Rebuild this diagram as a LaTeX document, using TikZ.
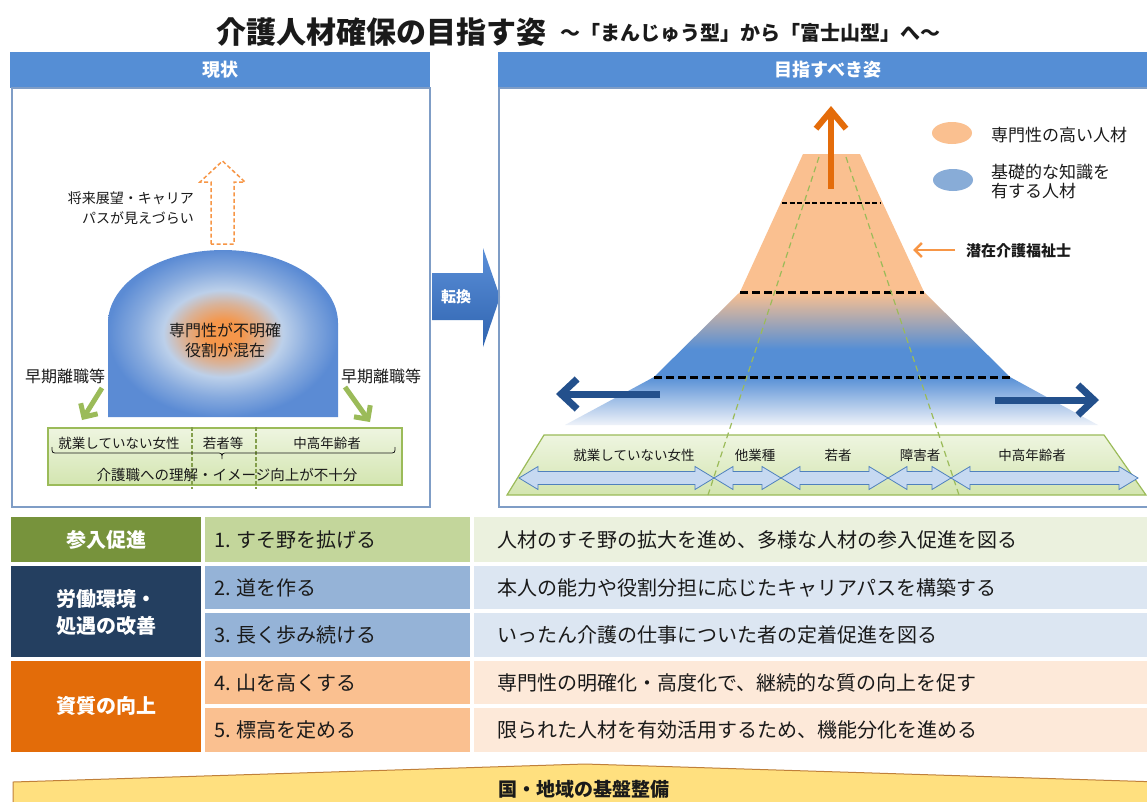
\documentclass[tikz,border=0pt]{standalone}
\usepackage{fontspec}
\setmainfont{Noto Sans CJK JP}
\usetikzlibrary{arrows.meta}
\definecolor{hdrblue}{HTML}{558ED5}
\definecolor{panelline}{HTML}{7F9DC6}
\definecolor{domeorange}{HTML}{F5964A}
\definecolor{domelight}{HTML}{BCD0EA}
\definecolor{domeblue}{HTML}{5B8BD4}
\definecolor{mtorange}{HTML}{FAC090}
\definecolor{mtblue}{HTML}{558ED5}
\definecolor{mtfade}{HTML}{EEF2F9}
\definecolor{grn}{HTML}{9BBB59}
\definecolor{grnlight}{HTML}{EEF5E0}
\definecolor{grnmid}{HTML}{D3E5B0}
\definecolor{darrfill}{HTML}{C6D9F1}
\definecolor{darrline}{HTML}{4F81BD}
\definecolor{navyarr}{HTML}{23508C}
\definecolor{orangearr}{HTML}{E46C0A}
\definecolor{orangeline}{HTML}{F79646}
\definecolor{catgreen}{HTML}{77933C}
\definecolor{catnavy}{HTML}{243F60}
\definecolor{catorange}{HTML}{E36C09}
\definecolor{ctwogreen}{HTML}{C3D69B}
\definecolor{ctwoblue}{HTML}{95B3D7}
\definecolor{ctwoorange}{HTML}{FAC090}
\definecolor{cthreegreen}{HTML}{EBF1DE}
\definecolor{cthreeblue}{HTML}{DCE6F2}
\definecolor{cthreeorange}{HTML}{FDE9D9}
\definecolor{bannerfill}{HTML}{FFE07F}
\definecolor{bannerline}{HTML}{C0803A}
\definecolor{txt}{HTML}{1A1A1A}
\definecolor{convtop}{HTML}{5B8FD8}
\definecolor{convbot}{HTML}{2F64B0}
\pgfdeclareradialshading{domeshade}{\pgfpoint{0bp}{0bp}}{color(0bp)=(domeorange); color(4bp)=(domeorange); color(9bp)=(domeorange!50!domelight); color(13bp)=(domelight); color(19bp)=(domelight!45!domeblue); color(25bp)=(domeblue); color(50bp)=(domeblue)}
\pgfdeclareverticalshading{mtshade}{100bp}{color(0bp)=(mtfade); color(25bp)=(mtfade); color(34bp)=(mtblue); color(39bp)=(mtblue); color(49.5bp)=(mtorange); color(100bp)=(mtorange)}
\newcommand{\dbarrow}[2]{%
  \draw[darrline, fill=darrfill, line width=0.8pt, line join=miter]
    (#1,478) -- ({#1+19},466.5) -- ({#1+19},471.5) -- ({#2-19},471.5) -- ({#2-19},466.5)
    -- (#2,478) -- ({#2-19},489.5) -- ({#2-19},484.5) -- ({#1+19},484.5) -- ({#1+19},489.5) -- cycle;}
\begin{document}
\begin{tikzpicture}[x=1pt,y=-1pt,
  lbl/.style={inner sep=0, text=txt},
  hdrtext/.style={inner sep=0, text=white, font=\fontsize{18}{22}\selectfont\bfseries},
  celltext/.style={inner sep=0, text=txt, anchor=west, font=\fontsize{20}{24}\selectfont},
  cattext/.style={inner sep=0, text=white, align=center, font=\fontsize{20}{27}\selectfont\bfseries},
  blackdash/.style={black, line width=3pt, dash pattern=on 8pt off 4pt},
  greendash/.style={grn, line width=1.2pt, dash pattern=on 6pt off 4pt},
  grnarrow/.style={grn, line width=5pt, -{Straight Barb[length=10pt,width=20pt]}},
  navyarrow/.style={navyarr, line width=7pt, -{Straight Barb[length=16pt,width=30pt]}}
]
\useasboundingbox (0,0) rectangle (1147,801);
\fill[white] (0,0) rectangle (1147,801);
\clip (0,0) rectangle (1147,801);

% title
\node[lbl, anchor=west, font=\fontsize{30}{34}\selectfont\bfseries] (title) at (216,32) {介護人材確保の目指す姿};
\node[lbl, anchor=west, font=\fontsize{20}{24}\selectfont\bfseries] (subtitle) at (560,33) {～「まんじゅう型」から「富士山型」へ～};

% headers
\fill[hdrblue] (10,52) rectangle (430,88);
\node[hdrtext] (hdrL) at (220,70) {現状};
\fill[hdrblue] (498,52) rectangle (1150,88);
\node[hdrtext] (hdrR) at (828,70) {目指すべき姿};

% conversion arrow
\shade[top color=convtop, bottom color=convbot] (432,273) -- (483,273) -- (483,248) -- (500,297) -- (483,347) -- (483,320) -- (432,320) -- cycle;
\node[inner sep=0, text=white, font=\fontsize{15}{18}\selectfont\bfseries] (conv) at (456,297) {転換};

% panel borders
\draw[panelline, line width=1.2pt] (12,88) rectangle (430,507);
\draw[panelline, line width=1.2pt] (499,88) rectangle (1152,507);

% ---------- left panel ----------
\shade[shading=domeshade] (108,417) -- (108,323) .. controls (108,283) and (159.5,250) .. (223,250) .. controls (286.5,250) and (338,283) .. (338,323) -- (338,417) -- cycle;
\node[lbl, align=center, font=\fontsize{16}{20}\selectfont] (domeText) at (225,340) {専門性が不明確\\役割が混在};

\draw[orangeline, line width=1.5pt, dash pattern=on 4pt off 2.5pt] (211,244) -- (211,182) -- (200,182) -- (222.5,161) -- (245,182) -- (234,182) -- (234,244) -- cycle;
\node[lbl, anchor=east, align=right, font=\fontsize{14}{20}\selectfont] (career) at (194,208) {将来展望・キャリア\\パスが見えづらい};

\node[lbl, font=\fontsize{16}{20}\selectfont] (earlyL) at (65,376) {早期離職等};
\node[lbl, font=\fontsize{16}{20}\selectfont] (earlyR) at (381,376) {早期離職等};
\coordinate (gaL1) at (102,388);
\coordinate (gaL2) at (82,420);
\coordinate (gaR1) at (345,387);
\coordinate (gaR2) at (370,422);
\draw[grnarrow] (gaL1) -- (gaL2);
\draw[grnarrow] (gaR1) -- (gaR2);

\draw[top color=grnlight, bottom color=grnmid, draw=grn, line width=1.2pt] (48,428) rectangle (402,485);
\draw[grn!85!black, line width=1.2pt, dash pattern=on 4pt off 2pt] (192,427) -- (192,489);
\draw[grn!85!black, line width=1.2pt, dash pattern=on 4pt off 2pt] (256,427) -- (256,489);
\node[lbl, font=\fontsize{13.5}{16}\selectfont] (lw) at (119,443) {就業していない女性};
\node[lbl, font=\fontsize{13.5}{16}\selectfont] (ly) at (223,443) {若者等};
\node[lbl, font=\fontsize{13.5}{16}\selectfont] (lm) at (327,443) {中高年齢者};
\draw[txt, line width=0.8pt] (52,447) .. controls (52,453) .. (58,453) -- (216,453) .. controls (222,453) .. (222,459) .. controls (222,453) .. (228,453) -- (389,453) .. controls (395,453) .. (395,447);
\node[lbl, font=\fontsize{14.5}{17}\selectfont] (lunder) at (227,475) {介護職への理解・イメージ向上が不十分};

% ---------- right panel ----------
\shade[shading=mtshade] (803,154) -- (860,154) -- (924,292) -- (1010,377) -- (1098,425) -- (565,425) -- (654,377) -- (740,292) -- cycle;
\draw[black, line width=2.2pt, dash pattern=on 5pt off 2.5pt] (782,203) -- (881,203);
\draw[blackdash] (740,292) -- (924,292);
\draw[blackdash] (654,377) -- (1010,377);

\draw[top color=grnlight, bottom color=grnmid, draw=grn, line width=1.2pt] (544,435) -- (1104,435) -- (1146,495) -- (507,495) -- cycle;

\draw[greendash] (819,157) -- (708,495);
\draw[greendash] (846,157) -- (959,495);

\dbarrow{519}{714}
\dbarrow{714}{781}
\dbarrow{781}{888}
\dbarrow{888}{951}
\dbarrow{951}{1138}

\node[lbl, font=\fontsize{13.5}{16}\selectfont] (rw) at (634,455) {就業していない女性};
\node[lbl, font=\fontsize{13.5}{16}\selectfont] (ro) at (755,455) {他業種};
\node[lbl, font=\fontsize{13.5}{16}\selectfont] (ry) at (838,455) {若者};
\node[lbl, font=\fontsize{13.5}{16}\selectfont] (rd) at (920,455) {障害者};
\node[lbl, font=\fontsize{13.5}{16}\selectfont] (rm) at (1032,455) {中高年齢者};

\coordinate (baL1) at (660,394);
\coordinate (baL2) at (556,394);
\coordinate (baR1) at (995,400);
\coordinate (baR2) at (1099,400);
\draw[navyarrow] (baL1) -- (baL2);
\draw[navyarrow] (baR1) -- (baR2);

\coordinate (upA) at (831,189);
\coordinate (upB) at (831,106);
\draw[orangearr, line width=6pt, -{Straight Barb[length=18pt,width=30pt]}] (upA) -- (upB);

% legend
\fill[mtorange] (952,133) ellipse [x radius=20, y radius=11];
\fill[ctwoblue!80!hdrblue] (953,180) ellipse [x radius=20, y radius=11];
\node[lbl, anchor=west, font=\fontsize{17}{20}\selectfont] (leg1) at (991,135) {専門性の高い人材};
\node[lbl, anchor=west, align=left, font=\fontsize{17}{19}\selectfont] (leg2) at (991,181) {基礎的な知識を\\有する人材};

\node[lbl, anchor=west, font=\fontsize{15}{18}\selectfont\bfseries] (latent) at (966,251) {潜在介護福祉士};
\coordinate (laA) at (955,250);
\coordinate (laB) at (913,250);
\draw[orangeline, line width=2.5pt, -{Straight Barb[length=7pt,width=14pt]}] (laA) -- (laB);

% ---------- table ----------
\fill[catgreen] (11,517) rectangle (201,562);
\fill[catnavy] (11,566) rectangle (201,657);
\fill[catorange] (11,661) rectangle (201,752);
\fill[ctwogreen] (205,517) rectangle (470,562);
\fill[ctwoblue] (205,566) rectangle (470,609);
\fill[ctwoblue] (205,613) rectangle (470,657);
\fill[ctwoorange] (205,661) rectangle (470,704);
\fill[ctwoorange] (205,708) rectangle (470,752);
\fill[cthreegreen] (474,517) rectangle (1147,562);
\fill[cthreeblue] (474,566) rectangle (1147,609);
\fill[cthreeblue] (474,613) rectangle (1147,657);
\fill[cthreeorange] (474,661) rectangle (1147,704);
\fill[cthreeorange] (474,708) rectangle (1147,752);

\node[cattext] (cat1) at (106,540) {参入促進};
\node[cattext] (cat2) at (106,612) {労働環境・\\処遇の改善};
\node[cattext] (cat3) at (106,706) {資質の向上};

\node[celltext] (s1) at (214,540) {1. すそ野を拡げる};
\node[celltext] (s2) at (214,588) {2. 道を作る};
\node[celltext] (s3) at (214,635) {3. 長く歩み続ける};
\node[celltext] (s4) at (214,683) {4. 山を高くする};
\node[celltext] (s5) at (214,730) {5. 標高を定める};

\node[celltext] (t1) at (497,540) {人材のすそ野の拡大を進め、多様な人材の参入促進を図る};
\node[celltext] (t2) at (497,588) {本人の能力や役割分担に応じたキャリアパスを構築する};
\node[celltext] (t3) at (497,635) {いったん介護の仕事についた者の定着促進を図る};
\node[celltext] (t4) at (497,683) {専門性の明確化・高度化で、継続的な質の向上を促す};
\node[celltext] (t5) at (497,730) {限られた人材を有効活用するため、機能分化を進める};

% ---------- banner ----------
\draw[fill=bannerfill, draw=bannerline, line width=1pt] (13,812) -- (13,782) -- (585,764) -- (1160,782) -- (1160,812) -- cycle;
\node[lbl, font=\fontsize{19}{22}\selectfont\bfseries] (banner) at (584,789) {国・地域の基盤整備};
\end{tikzpicture}
\end{document}
